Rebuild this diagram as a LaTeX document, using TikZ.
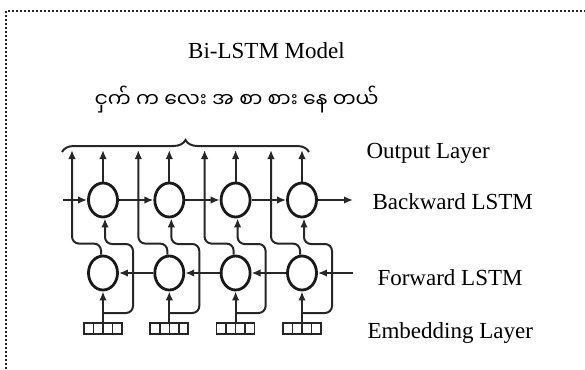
\documentclass[tikz,border=0pt]{standalone}
\usepackage{fontspec}
\setmainfont{Liberation Serif}
\newfontfamily\mmfont[Script=Myanmar]{Noto Sans Myanmar UI}
\usetikzlibrary{arrows.meta,decorations.pathreplacing,shapes.geometric}

\begin{document}
\begin{tikzpicture}[x=1pt,y=-1pt,
  wire/.style={draw=black!85,line width=2pt},
  arr/.style={wire,-{Latex[length=9pt,width=7.5pt]}},
  lstm/.style={ellipse,draw=black!90,line width=2.8pt,minimum width=29pt,minimum height=34pt,inner sep=0pt},
  emb/.style={rectangle,draw=black!85,line width=1.7pt,minimum width=38pt,minimum height=11.5pt,inner sep=0pt},
  label/.style={anchor=base west,font=\fontsize{23}{27}\selectfont},
  frame/.style={draw=black!85,line width=1.7pt,dash pattern=on 1.7pt off 2.3pt}]

\useasboundingbox (0,0) rectangle (585,369);

% dotted outer frame
\draw[frame] (6,369) -- (6,11) -- (585,11);

% titles
\node[anchor=base,font=\fontsize{23}{27}\selectfont] (title) at (266.5,59) {Bi-LSTM Model};
\node[anchor=west,font=\fontsize{20.4}{24}\selectfont] (sentence) at (91,100) {\mmfont ငှက် က လေး အ စာ စား နေ တယ်};

% layer names
\node[label] (lout) at (363,158) {Output Layer};
\node[label] (lbwd) at (369,209) {Backward LSTM};
\node[label] (lfwd) at (374,285) {Forward LSTM};
\node[label] (lemb) at (364,338) {Embedding Layer};

% cells, embeddings and their connections
\foreach \i/\x in {1/103,2/169.3,3/235.6,4/302} {
  \node[lstm] (b\i) at (\x,200) {};
  \node[lstm] (f\i) at (\x,273) {};
  \node[emb]  (e\i) at (\x,328.5) {};
  \draw[draw=black!85,line width=1.5pt]
    ([xshift=-9.5pt]e\i.north) -- ([xshift=-9.5pt]e\i.south)
    (e\i.north) -- (e\i.south)
    ([xshift=9.5pt]e\i.north) -- ([xshift=9.5pt]e\i.south);
  \coordinate (ob\i) at (\x,150);
  \coordinate (of\i) at (\x-31,150);
  \coordinate (s\i) at (\x,313);
  % embedding into forward cell
  \draw[arr] (e\i.north) -- (f\i.south);
  % embedding around forward cell into backward cell
  \draw[arr,rounded corners=7pt] (s\i) -- (\x+30,313) -- (\x+30,244) -- (\x+2,244) -- ([xshift=2pt]b\i.south);
  % forward cell up to output
  \draw[arr,rounded corners=7pt] ([xshift=-2pt]f\i.north) -- ++(0,-11) -| (of\i);
  % backward cell up to output
  \draw[arr] (b\i.north) -- (ob\i);
}

% recurrent links
\coordinate (bin) at (63,200);
\coordinate (bout) at (353,200);
\coordinate (fin) at (353,273);
\draw[arr] (bin) -- (b1);
\draw[arr] (b1) -- (b2);
\draw[arr] (b2) -- (b3);
\draw[arr] (b3) -- (b4);
\draw[arr] (b4) -- (bout);
\draw[arr] (fin) -- (f4);
\draw[arr] (f4) -- (f3);
\draw[arr] (f3) -- (f2);
\draw[arr] (f2) -- (f1);

% brace over the outputs
\draw[wire,decorate,decoration={brace,amplitude=12pt}] (62,152) -- (309,152);
\end{tikzpicture}
\end{document}
